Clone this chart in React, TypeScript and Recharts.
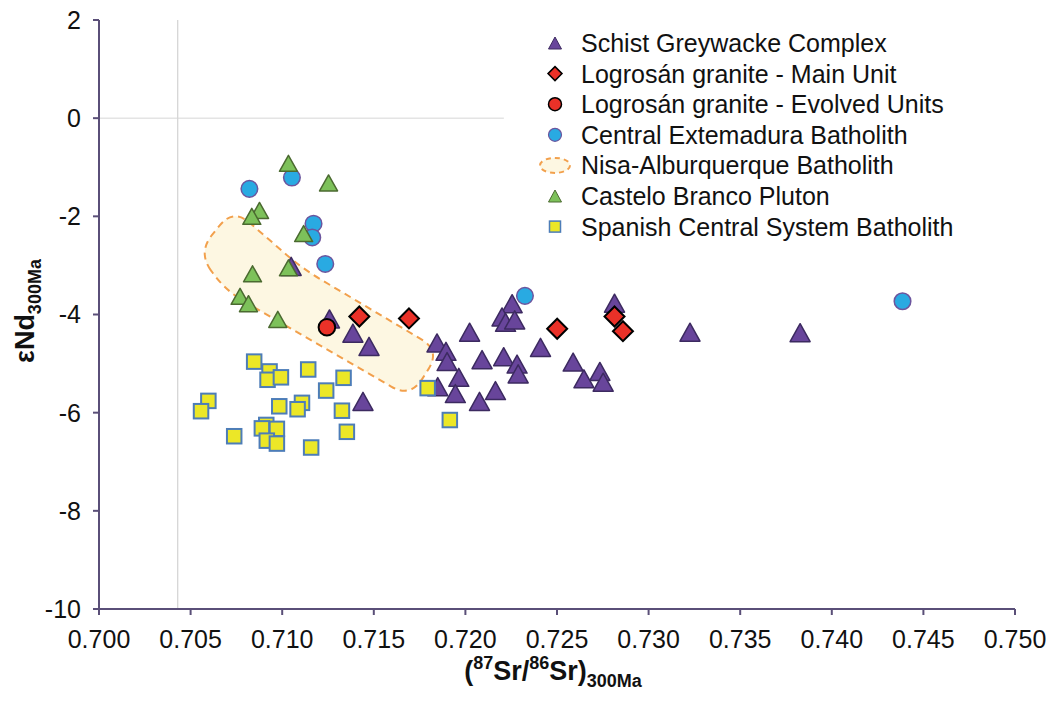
import React from 'react';
import { ScatterChart, Scatter, XAxis, YAxis, ReferenceLine, Legend } from 'recharts';

const FONT = '"Liberation Sans", Arial, Helvetica, sans-serif';
const AXIS_COLOR = '#5a4f78';

const xTicks = [0.7, 0.705, 0.71, 0.715, 0.72, 0.725, 0.73, 0.735, 0.74, 0.745, 0.75];
const yTicks = [2, 0, -2, -4, -6, -8, -10];

const schistGreywacke = [
  { x: 0.71258, y: -4.09 }, { x: 0.71386, y: -4.38 }, { x: 0.71474, y: -4.65 }, { x: 0.71441, y: -5.77 },
  { x: 0.71049, y: -3.02 },
  { x: 0.71845, y: -4.58 }, { x: 0.71894, y: -4.75 }, { x: 0.719, y: -4.96 }, { x: 0.71849, y: -5.47 },
  { x: 0.71964, y: -5.28 }, { x: 0.71945, y: -5.61 },
  { x: 0.72023, y: -4.36 }, { x: 0.72091, y: -4.92 }, { x: 0.72077, y: -5.77 }, { x: 0.72164, y: -5.55 },
  { x: 0.72209, y: -4.86 }, { x: 0.72282, y: -5.01 }, { x: 0.72288, y: -5.21 },
  { x: 0.72255, y: -3.78 }, { x: 0.722, y: -4.05 }, { x: 0.72219, y: -4.16 }, { x: 0.72269, y: -4.11 },
  { x: 0.7241, y: -4.67 }, { x: 0.72588, y: -4.97 }, { x: 0.72647, y: -5.31 }, { x: 0.72734, y: -5.16 },
  { x: 0.72752, y: -5.38 }, { x: 0.72814, y: -3.77 },
  { x: 0.73226, y: -4.36 }, { x: 0.73827, y: -4.37 },
];

const logrosanMain = [
  { x: 0.71421, y: -4.04 }, { x: 0.71692, y: -4.08 }, { x: 0.72501, y: -4.29 },
  { x: 0.72814, y: -4.04 }, { x: 0.7286, y: -4.34 },
];

const logrosanEvolved = [{ x: 0.71244, y: -4.26 }];

const centralExtremadura = [
  { x: 0.70821, y: -1.44 }, { x: 0.71053, y: -1.21 }, { x: 0.71171, y: -2.15 }, { x: 0.71164, y: -2.43 },
  { x: 0.71235, y: -2.97 }, { x: 0.72325, y: -3.62 }, { x: 0.74386, y: -3.73 },
];

const casteloBranco = [
  { x: 0.71034, y: -0.92 }, { x: 0.71253, y: -1.32 }, { x: 0.70876, y: -1.88 }, { x: 0.70834, y: -2.0 },
  { x: 0.71117, y: -2.35 }, { x: 0.71034, y: -3.05 }, { x: 0.70838, y: -3.17 }, { x: 0.7077, y: -3.63 },
  { x: 0.70816, y: -3.78 }, { x: 0.70976, y: -4.1 },
];

const spanishCentral = [
  { x: 0.70847, y: -4.96 }, { x: 0.70931, y: -5.16 }, { x: 0.7092, y: -5.33 }, { x: 0.70993, y: -5.28 },
  { x: 0.71142, y: -5.12 }, { x: 0.71335, y: -5.29 }, { x: 0.7124, y: -5.55 }, { x: 0.70597, y: -5.76 },
  { x: 0.70557, y: -5.97 }, { x: 0.70984, y: -5.87 }, { x: 0.71108, y: -5.8 }, { x: 0.71084, y: -5.93 },
  { x: 0.71326, y: -5.96 }, { x: 0.70738, y: -6.48 }, { x: 0.70913, y: -6.25 }, { x: 0.70971, y: -6.33 },
  { x: 0.70889, y: -6.32 }, { x: 0.70916, y: -6.57 }, { x: 0.70971, y: -6.63 }, { x: 0.71353, y: -6.39 },
  { x: 0.71158, y: -6.71 }, { x: 0.71794, y: -5.5 }, { x: 0.71915, y: -6.15 },
];

// outline vertices of the Nisa-Alburquerque Batholith field
const nisaAlburquerque = [
  { x: 0.70541, y: -2.735 }, { x: 0.70733, y: -1.84 }, { x: 0.71109, y: -3.061 },
  { x: 0.71863, y: -4.735 }, { x: 0.71699, y: -5.694 }, { x: 0.70689, y: -3.51 },
];

const legendLabels = [
  'Schist Greywacke Complex',
  'Logrosán granite - Main Unit',
  'Logrosán granite - Evolved Units',
  'Central Extemadura Batholith',
  'Nisa-Alburquerque Batholith',
  'Castelo Branco Pluton',
  'Spanish Central System Batholith',
];

const C = {
  purple: '#68459b', purpleStroke: '#3c2a60',
  red: '#ea3128',
  blue: '#29aae2', blueStroke: '#6c559e',
  green: '#7dc15a', greenStroke: '#4b6a30',
  yellow: '#ece727', yellowStroke: '#4d7db8',
  nisaFill: '#fdf7e2', nisaStroke: '#f2a04c',
};

const triangle = (cx: number, cy: number, w: number, h: number, fill: string, stroke: string, sw = 1.5) => (
  <polygon
    points={`${cx},${cy - h / 2} ${cx + w / 2},${cy + h / 2} ${cx - w / 2},${cy + h / 2}`}
    fill={fill} stroke={stroke} strokeWidth={sw} strokeLinejoin="round"
  />
);
const diamond = (cx: number, cy: number, r: number, sw = 2) => (
  <polygon points={`${cx},${cy - r} ${cx + r},${cy} ${cx},${cy + r} ${cx - r},${cy}`} fill={C.red} stroke="#000" strokeWidth={sw} strokeLinejoin="miter" />
);
const square = (cx: number, cy: number, s: number, sw = 2) => (
  <rect x={cx - s / 2} y={cy - s / 2} width={s} height={s} fill={C.yellow} stroke={C.yellowStroke} strokeWidth={sw} />
);

const purpleShape = (p: any) => (p.cx == null ? <g /> : triangle(p.cx, p.cy, 20, 18, C.purple, C.purpleStroke));
const greenShape = (p: any) => (p.cx == null ? <g /> : triangle(p.cx, p.cy, 18, 16, C.green, C.greenStroke));
const blueShape = (p: any) => (p.cx == null ? <g /> : <circle cx={p.cx} cy={p.cy} r={8.3} fill={C.blue} stroke={C.blueStroke} strokeWidth={1.5} />);
const redCircleShape = (p: any) => (p.cx == null ? <g /> : <circle cx={p.cx} cy={p.cy} r={8.3} fill={C.red} stroke="#000" strokeWidth={2} />);
const diamondShape = (p: any) => (p.cx == null ? <g /> : diamond(p.cx, p.cy, 10));
const squareShape = (p: any) => (p.cx == null ? <g /> : square(p.cx, p.cy, 14.5));
const emptyShape = () => <g />;

const roundedPath = (pts: { x: number; y: number }[], r: number) => {
  const n = pts.length;
  let d = '';
  for (let i = 0; i < n; i++) {
    const prev = pts[(i - 1 + n) % n];
    const cur = pts[i];
    const next = pts[(i + 1) % n];
    const v1x = prev.x - cur.x, v1y = prev.y - cur.y;
    const v2x = next.x - cur.x, v2y = next.y - cur.y;
    const l1 = Math.hypot(v1x, v1y), l2 = Math.hypot(v2x, v2y);
    const rr = Math.min(r, l1 / 2, l2 / 2);
    const ax = cur.x + (v1x / l1) * rr, ay = cur.y + (v1y / l1) * rr;
    const bx = cur.x + (v2x / l2) * rr, by = cur.y + (v2y / l2) * rr;
    d += `${i === 0 ? 'M' : 'L'}${ax},${ay} Q${cur.x},${cur.y} ${bx},${by} `;
  }
  return d + 'Z';
};

const nisaLine = (lp: any) => (
  <path
    d={roundedPath(lp.points, 22)}
    fill={C.nisaFill}
    stroke={C.nisaStroke}
    strokeWidth={2}
    strokeDasharray="7 5"
  />
);

const legendIcon = (i: number, cx: number, cy: number) => {
  switch (i) {
    case 0: return triangle(cx, cy, 13, 12, C.purple, C.purpleStroke, 1);
    case 1: return diamond(cx, cy, 7, 1.5);
    case 2: return <circle cx={cx} cy={cy} r={6.5} fill={C.red} stroke="#000" strokeWidth={1.5} />;
    case 3: return <circle cx={cx} cy={cy} r={6.5} fill={C.blue} stroke={C.blueStroke} strokeWidth={1.2} />;
    case 4: return <ellipse cx={cx} cy={cy} rx={15} ry={7.5} fill={C.nisaFill} stroke={C.nisaStroke} strokeWidth={2} strokeDasharray="5 4" />;
    case 5: return triangle(cx, cy, 13, 12, C.green, C.greenStroke, 1);
    default: return square(cx, cy, 11, 1.5);
  }
};

const renderLegend = () => (
  <svg width={500} height={230} style={{ display: 'block' }}>
    {legendLabels.map((label, i) => {
      const cy = 23 + i * 30.6;
      return (
        <g key={label}>
          {legendIcon(i, 25, cy)}
          <text x={51} y={cy + 9} fontSize={25} fontFamily={FONT} fill="#111">{label}</text>
        </g>
      );
    })}
  </svg>
);

const XTitle = () => (
  <text x={553} y={680} textAnchor="middle" fontFamily={FONT} fontWeight="bold" fontSize={27} fill="#111">
    <tspan>(</tspan>
    <tspan dy={-11} fontSize={18}>87</tspan>
    <tspan dy={11}>Sr/</tspan>
    <tspan dy={-11} fontSize={18}>86</tspan>
    <tspan dy={11}>Sr)</tspan>
    <tspan dy={7} fontSize={18}>300Ma</tspan>
  </text>
);

const YTitle = () => (
  <text
    x={34} y={311} textAnchor="middle" transform="rotate(-90 34 311)"
    fontFamily={FONT} fontWeight="bold" fontSize={27} fill="#111"
  >
    <tspan>εNd</tspan>
    <tspan dy={7} fontSize={18}>300Ma</tspan>
  </text>
);

export default function App() {
  return (
    <div style={{ position: 'absolute', left: 0, top: 0, width: 1046, height: 701, background: '#fff' }}>
      <ScatterChart width={1046} height={701} margin={{ top: 20, right: 31, bottom: 32, left: 39 }}>
        <XAxis
          type="number" dataKey="x" domain={[0.7, 0.75]} ticks={xTicks} allowDataOverflow
          tickFormatter={(v: number) => v.toFixed(3)} height={60}
          stroke={AXIS_COLOR} strokeWidth={2} tickSize={6} tickMargin={15}
          tick={{ fontSize: 25, fill: '#111', fontFamily: FONT }}
          label={{ content: () => <XTitle /> }}
        />
        <YAxis
          type="number" dataKey="y" domain={[-10, 2]} ticks={yTicks} allowDataOverflow
          width={60} stroke={AXIS_COLOR} strokeWidth={2} tickSize={6} tickMargin={12}
          tick={{ fontSize: 25, fill: '#111', fontFamily: FONT }}
          label={{ content: () => <YTitle /> }}
        />
        <ReferenceLine x={0.7043} stroke="#c9c9c9" strokeWidth={1} />
        <ReferenceLine segment={[{ x: 0.7, y: 0 }, { x: 0.7221, y: 0 }]} stroke="#d6d6d6" strokeWidth={1} />
        <Scatter
          name="Nisa-Alburquerque Batholith" data={nisaAlburquerque} shape={emptyShape}
          line={nisaLine} lineType="joint" isAnimationActive={false} legendType="none"
        />
        <Scatter name="Schist Greywacke Complex" data={schistGreywacke} shape={purpleShape} isAnimationActive={false} legendType="none" />
        <Scatter name="Central Extemadura Batholith" data={centralExtremadura} shape={blueShape} isAnimationActive={false} legendType="none" />
        <Scatter name="Castelo Branco Pluton" data={casteloBranco} shape={greenShape} isAnimationActive={false} legendType="none" />
        <Scatter name="Spanish Central System Batholith" data={spanishCentral} shape={squareShape} isAnimationActive={false} legendType="none" />
        <Scatter name="Logrosán granite - Main Unit" data={logrosanMain} shape={diamondShape} isAnimationActive={false} legendType="none" />
        <Scatter name="Logrosán granite - Evolved Units" data={logrosanEvolved} shape={redCircleShape} isAnimationActive={false} legendType="none" />
        <Legend
          layout="vertical" align="center" verticalAlign="middle" content={renderLegend}
          wrapperStyle={{ left: 530, top: 20, width: 500, height: 230 }}
        />
      </ScatterChart>
    </div>
  );
}
